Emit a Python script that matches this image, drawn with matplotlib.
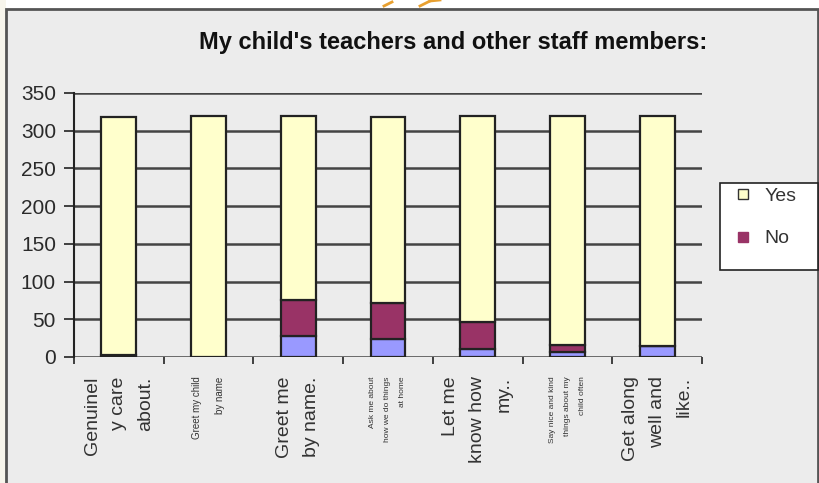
import matplotlib.pyplot as plt
import numpy as np
from matplotlib.patches import Rectangle
from matplotlib.lines import Line2D

plt.rcParams['font.family'] = ['Liberation Sans', 'DejaVu Sans']

# data
categories = ["Genuinel\ny care\nabout.", "Greet my child\nby name", "Greet me\nby name.",
              "Ask me about\nhow we do things\nat home", "Let me\nknow how\nmy..",
              "Say nice and kind\nthings about my\nchild often", "Get along\nwell and\nlike.."]
label_sizes = [14, 7, 14, 6, 14, 6, 14]
other = [0, 0, 28, 24, 10, 7, 15]
no = [2, 0, 47, 47, 37, 9, 0]
yes = [316, 320, 245, 247, 273, 304, 305]

W, H = 820, 483
bg = '#ececec'
fig = plt.figure(figsize=(8.2, 4.83), dpi=100)
fig.patch.set_facecolor('white')

# outer chart frame
fig.patches.append(Rectangle((0, 0), 6 / W, 1, transform=fig.transFigure,
                             facecolor='#f7f5ec', edgecolor='none', zorder=-2))
fig.patches.append(Rectangle((6 / W, -0.01), 812 / W, 1 - 9 / H + 0.01,
                             transform=fig.transFigure, facecolor=bg,
                             edgecolor='#555555', linewidth=2, zorder=-1))
# bit of orange slide graphic peeking over the frame
for xs, ys in [([384, 392], [6, 2]), ([420, 430], [6, 1]), ([430, 440], [1, 0])]:
    fig.lines.append(Line2D([v / W for v in xs], [1 - v / H for v in ys],
                            transform=fig.transFigure, color='#e8a030', linewidth=2))

ax = fig.add_axes([74 / W, 126 / H, 628 / W, 264 / H])
ax.set_facecolor(bg)

x = np.arange(len(categories))
w = 0.39
ax.bar(x, other, w, color='#9999ff', edgecolor='#222222', linewidth=1.6, zorder=3)
ax.bar(x, no, w, bottom=other, color='#993366', edgecolor='#222222', linewidth=1.6, zorder=3)
bottom_yes = np.array(other) + np.array(no)
ax.bar(x, yes, w, bottom=bottom_yes, color='#ffffcc', edgecolor='#222222', linewidth=1.6, zorder=3)

ax.set_xlim(-0.5, len(categories) - 0.5)
ax.set_ylim(0, 350)
ax.set_yticks(range(0, 351, 50))
ax.yaxis.grid(True, color='#444444', linewidth=1.8, zorder=1)
ax.set_axisbelow(True)
for s in ['top', 'right', 'bottom']:
    ax.spines[s].set_visible(False)
ax.spines['left'].set_color('#222222')
ax.spines['left'].set_linewidth(1.5)
ax.tick_params(axis='y', labelsize=15, length=7, width=1.2, colors='#222222', pad=6)
ax.tick_params(axis='y', labelcolor='#2a2a2a')

ax.set_xticks(x)
ax.set_xticklabels(categories)
ax.tick_params(axis='x', length=0, pad=14)
for lab, fs in zip(ax.get_xticklabels(), label_sizes):
    lab.set_rotation(90)
    lab.set_fontsize(fs)
    lab.set_va('top')
    lab.set_ha('center')
    lab.set_multialignment('right')
    lab.set_color('#333333')
    lab.set_linespacing(1.75 if fs > 10 else 2.6)
ax.set_xticks(np.arange(-0.5, len(categories)), minor=True)
ax.tick_params(axis='x', which='minor', length=5, width=1.2, color='#222222')

fig.text(453 / W, 1 - 43 / H, "My child's teachers and other staff members:",
         fontsize=17, fontweight='bold', ha='center', va='center', color='#111111')

# legend box (third entry is cut off in the original)
fig.patches.append(Rectangle((720 / W, 1 - 270 / H), 98 / W, 87 / H, transform=fig.transFigure,
                             facecolor='white', edgecolor='#222222', linewidth=1.2, zorder=4))
handles = [Line2D([], [], marker='s', linestyle='none', markersize=7,
                  markerfacecolor='#ffffcc', markeredgecolor='#333333', label='Yes'),
           Line2D([], [], marker='s', linestyle='none', markersize=7,
                  markerfacecolor='#993366', markeredgecolor='#993366', label='No')]
leg = fig.legend(handles=handles, loc='upper left', bbox_to_anchor=(735 / W, 1 - 187 / H),
                 fontsize=14, frameon=False, borderpad=0, borderaxespad=0,
                 handletextpad=0.7, labelspacing=1.3, handlelength=0.8)
leg.set_zorder(5)
for t in leg.get_texts():
    t.set_color('#333333')

fig.savefig('out.png', dpi=100, facecolor=fig.get_facecolor())
